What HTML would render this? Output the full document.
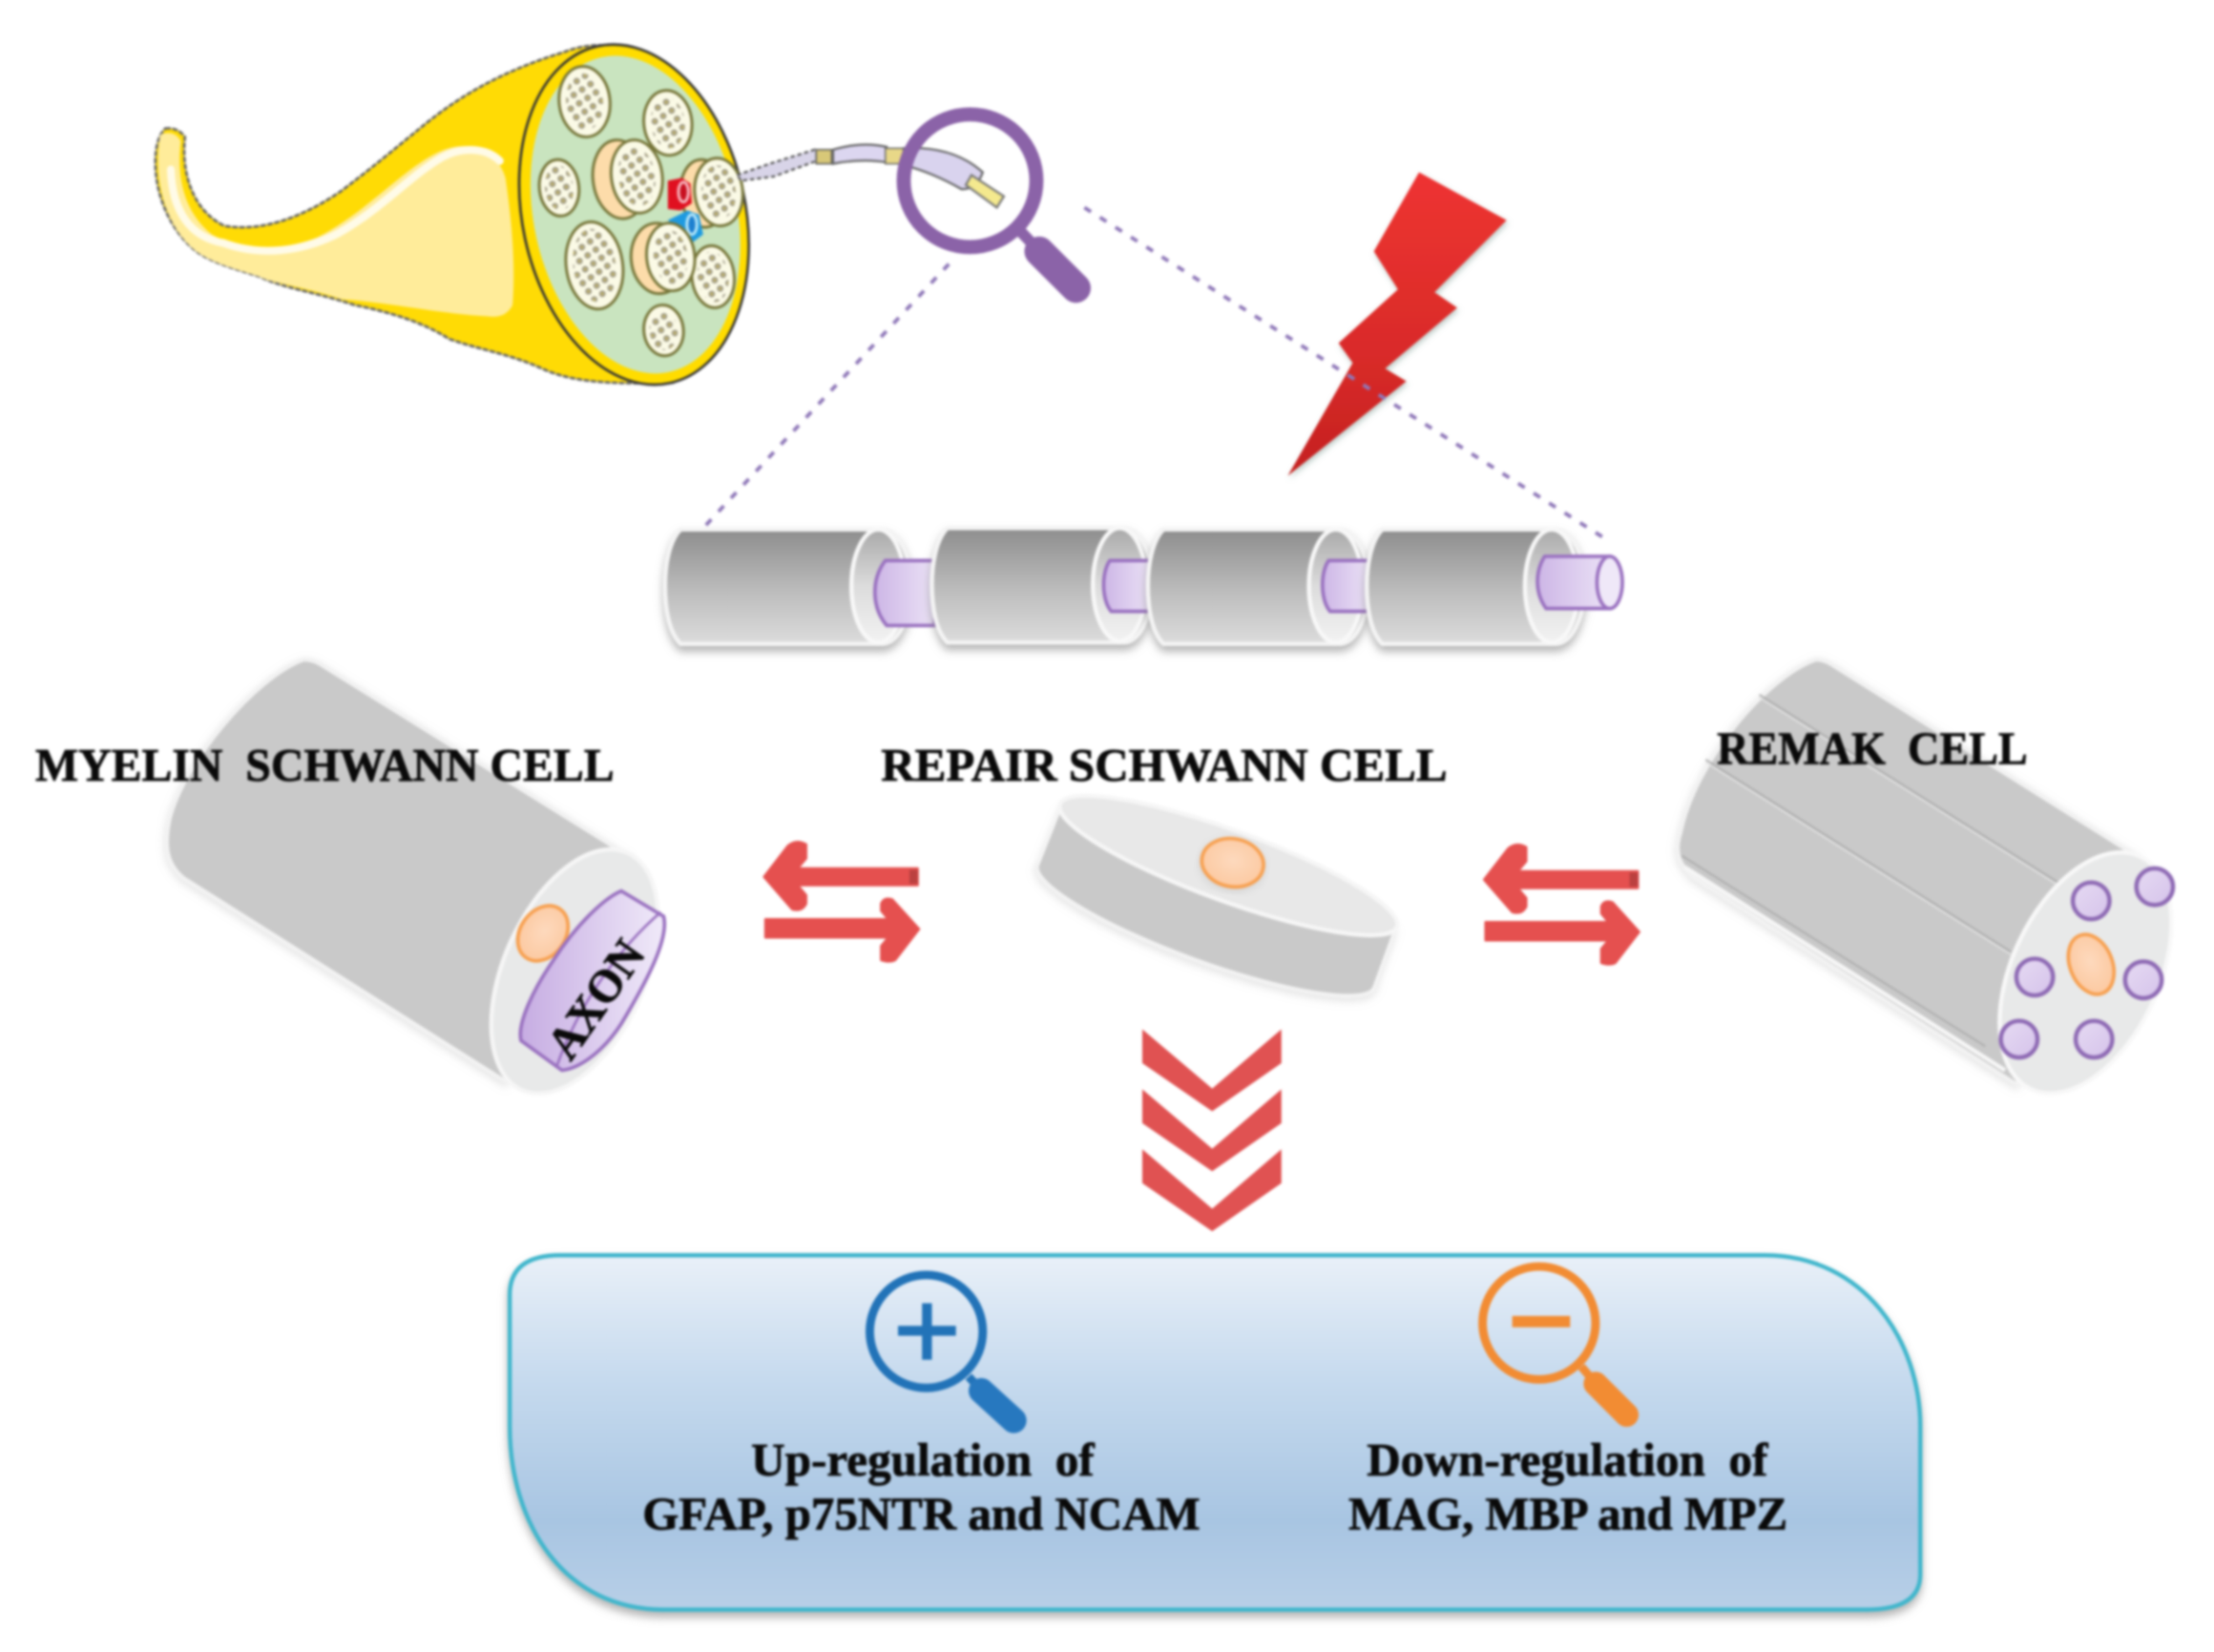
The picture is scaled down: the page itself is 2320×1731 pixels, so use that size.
<!DOCTYPE html>
<html><head><meta charset="utf-8"><style>
html,body{margin:0;padding:0;background:#fff;width:2320px;height:1731px;overflow:hidden}
svg{display:block;filter:blur(1.3px)}
text{font-family:"Liberation Serif",serif;font-weight:bold;fill:#0a0a0a;stroke:#0a0a0a;stroke-width:.5;white-space:pre}
</style></head><body>
<svg xmlns="http://www.w3.org/2000/svg" width="2320" height="1731" viewBox="0 0 1568 1170" preserveAspectRatio="none">
<defs>
<linearGradient id="body" x1="0" y1="0" x2="0" y2="1"><stop offset="0" stop-color="#8d8d8d"/><stop offset=".55" stop-color="#bdbdbd"/><stop offset="1" stop-color="#dcdcdc"/></linearGradient>
<linearGradient id="face" x1="0" y1="0" x2="0" y2="1"><stop offset="0" stop-color="#a9a9a9"/><stop offset=".5" stop-color="#dcdcdc"/><stop offset="1" stop-color="#f2f2f2"/></linearGradient>
<linearGradient id="ax" x1="0" y1="0" x2="1" y2="0"><stop offset="0" stop-color="#cdb6e6"/><stop offset="1" stop-color="#ebe2f6"/></linearGradient>
<linearGradient id="ax2" x1="0" y1="0" x2="1" y2="0"><stop offset="0" stop-color="#c6ace2"/><stop offset="1" stop-color="#f0eaf9"/></linearGradient>
<linearGradient id="bolt" x1="0" y1="0" x2="0" y2="1"><stop offset="0" stop-color="#ee3331"/><stop offset=".6" stop-color="#d92b29"/><stop offset="1" stop-color="#c4201f"/></linearGradient>
<linearGradient id="box" x1="0" y1="0" x2="0" y2="1"><stop offset="0" stop-color="#e9f0f8"/><stop offset=".35" stop-color="#c6daee"/><stop offset=".75" stop-color="#a8c5e2"/><stop offset="1" stop-color="#b8cfe7"/></linearGradient>
<radialGradient id="or" cx=".5" cy=".45" r=".6"><stop offset="0" stop-color="#fdd9bd"/><stop offset="1" stop-color="#fcc89f"/></radialGradient>
<linearGradient id="pc" x1="0" y1="0" x2="1" y2="1"><stop offset="0" stop-color="#e6daf3"/><stop offset="1" stop-color="#d5c3ea"/></linearGradient>
<filter id="sh" x="-10%" y="-15%" width="120%" height="135%"><feDropShadow dx="0" dy="4" stdDeviation="3" flood-color="#777" flood-opacity=".55"/></filter>
<filter id="sh2" x="-10%" y="-10%" width="120%" height="125%"><feDropShadow dx="0" dy="2" stdDeviation="3" flood-color="#aaa" flood-opacity=".35"/></filter>
<filter id="sh3" x="-10%" y="-10%" width="125%" height="125%"><feDropShadow dx="1" dy="2" stdDeviation="2" flood-color="#7a9a90" flood-opacity=".5"/></filter>
<pattern id="dots" width="10" height="10" patternUnits="userSpaceOnUse" patternTransform="rotate(18)">
<circle cx="2.500" cy="2.500" r="2.300" fill="#9c9888"/><circle cx="2.500" cy="2.500" r="1" fill="#c9b860"/><circle cx="7.500" cy="7.500" r="2.300" fill="#9c9888"/><circle cx="7.500" cy="7.500" r="1" fill="#c9b860"/></pattern>
<g id="arrows" stroke="#e5504f" stroke-width="1.500" stroke-linejoin="round">
<path d="M541,621 L558,599 Q564,594 571,598 L571,608 L565,615 L650,615 L650,627 L565,627 L571,634 L571,640 Q568,646 561,644 Z" fill="#e5504f"/>
<path d="M651,658 L634,680 Q630,682 624,680 L624,670 L629,664 L542,664 L542,651 L629,651 L624,645 L624,640 Q626,635 632,637 Z" fill="#e5504f"/>
<rect x="644" y="616" width="6" height="10" fill="#a93a3a" opacity=".7" stroke="none"/>
</g>
</defs>

<!-- nerve -->
<g>
<path d="M117,91 Q126,90 131,97 C128,125 138,150 159,160 C190,165 220,150 242,135 C262,120 280,105 296,92 C320,72 350,52 399,37 C412,32 425,31 436,33 L478,271 C440,272 410,272 386,262 C360,250 340,248 318,240 C296,226 270,220 251,216 C220,206 200,204 184,196 C165,190 150,186 139,178 C122,165 110,140 110,115 Q110,98 117,91 Z" fill="#ffdb05" stroke="#666" stroke-width="1.800" stroke-dasharray="4 1"/>
<path d="M114,95 Q124,92 128,100 C125,125 130,150 150,166 C170,178 200,178 225,168 C260,150 285,120 310,108 C330,98 352,105 358,126 C363,160 365,190 363,216 Q358,226 345,224 C310,222 275,214 242,212 C220,204 190,200 184,196 C165,190 150,186 139,178 C122,165 112,140 112,115 Q112,100 114,95Z" fill="#ffec9a"/>
<path d="M121,120 C122,150 135,168 158,172 C185,182 215,178 240,165 C270,148 290,125 312,112 C328,103 345,105 354,114" fill="none" stroke="#fffbe8" stroke-width="5.500" stroke-linecap="round"/>
<ellipse cx="449" cy="152" rx="79" ry="122" transform="rotate(-12 449 152)" fill="#ffdc00" stroke="#333" stroke-width="1.800"/>
<ellipse cx="450" cy="152" rx="72" ry="114" transform="rotate(-12 450 152)" fill="#c9e4bf"/>
<g stroke="#77763a" stroke-width="2" fill="#fbfae6">
<ellipse cx="414" cy="72" rx="18" ry="25" transform="rotate(-6 414 72)"/>
<ellipse cx="473" cy="87" rx="17" ry="23" transform="rotate(-6 473 87)"/>
<ellipse cx="396" cy="133" rx="14" ry="20" transform="rotate(-6 396 133)"/>
<ellipse cx="421" cy="188" rx="20" ry="31" transform="rotate(-8 421 188)"/>
<ellipse cx="470" cy="234" rx="14" ry="18" transform="rotate(-6 470 234)"/>
<ellipse cx="505" cy="196" rx="15" ry="22" transform="rotate(-6 505 196)"/>
<ellipse cx="439" cy="127" rx="19" ry="28" transform="rotate(-8 439 127)" fill="#fddcaa"/>
<ellipse cx="451" cy="125" rx="18" ry="26" transform="rotate(-8 451 125)"/>
<ellipse cx="498" cy="137" rx="16" ry="24" transform="rotate(-6 498 137)" fill="#fddcaa"/>
</g>
<path d="M473,128 l10,-2 l6,4 l1,14 l-8,5 l-9,-1 Z" fill="#e01020"/><ellipse cx="484" cy="136" rx="3.500" ry="7" fill="#c81020" stroke="#f8b8c0" stroke-width="2"/>
<path d="M473,156 l14,-7 l8,3 l3,14 l-8,6 Z" fill="#1e9ae0"/><ellipse cx="490" cy="159" rx="3.500" ry="7" fill="#1e80d0" stroke="#b8e8fa" stroke-width="2"/>
<g stroke="#77763a" stroke-width="2" fill="#fbfae6">
<ellipse cx="509" cy="136" rx="17" ry="24" transform="rotate(-6 509 136)"/>
<ellipse cx="466" cy="183" rx="19" ry="25" transform="rotate(-6 466 183)" fill="#fddcaa"/>
<ellipse cx="475" cy="182" rx="17" ry="24" transform="rotate(-6 475 182)"/>
</g>
<g fill="url(#dots)">
<ellipse cx="414" cy="72" rx="13" ry="20" transform="rotate(-6 414 72)"/>
<ellipse cx="473" cy="87" rx="12" ry="18" transform="rotate(-6 473 87)"/>
<ellipse cx="396" cy="133" rx="10" ry="16" transform="rotate(-6 396 133)"/>
<ellipse cx="421" cy="188" rx="15" ry="26" transform="rotate(-8 421 188)"/>
<ellipse cx="470" cy="234" rx="10" ry="14" transform="rotate(-6 470 234)"/>
<ellipse cx="505" cy="196" rx="11" ry="18" transform="rotate(-6 505 196)"/>
<ellipse cx="451" cy="125" rx="13" ry="21" transform="rotate(-8 451 125)"/>
<ellipse cx="509" cy="136" rx="12" ry="19" transform="rotate(-6 509 136)"/>
<ellipse cx="475" cy="182" rx="12" ry="19" transform="rotate(-6 475 182)"/>
</g>
</g>

<!-- fiber -->
<path d="M522,124 L545,116 L577,106 L581,113 L548,125 L525,128 Z" fill="#d8d4e8" stroke="#555" stroke-width="1.500" stroke-dasharray="3 2"/>
<rect x="578" y="106" width="11" height="10" fill="#d8c878" stroke="#555" stroke-width="1"/>
<path d="M590,106 Q610,100 628,104 L628,115 Q610,112 590,116 Z" fill="#dcd6f0" stroke="#666" stroke-width="1.500"/>
<rect x="627" y="105" width="14" height="11" fill="#e8d888" stroke="#666" stroke-width="1"/>
<path d="M640,105 Q675,103 696,122 Q692,134 681,134 Q660,122 640,117 Z" fill="#d9d3ee" stroke="#666" stroke-width="1.500"/>
<path d="M688,124 L711,139 L706,147 L684,131 Z" fill="#f4e98e" stroke="#777" stroke-width="1.500"/>
<circle cx="687" cy="128" r="47" fill="none" stroke="#8b63a8" stroke-width="10"/>
<line x1="722" y1="163" x2="738" y2="180" stroke="#8b63a8" stroke-width="8"/>
<line x1="736" y1="178" x2="762" y2="204" stroke="#8b63a8" stroke-width="21" stroke-linecap="round"/>

<!-- bolt -->
<polygon points="1005,122 1067,156 1016,207 1032,218 981,261 996,270 912,337 958,257 948,243 990,205 973,178" fill="url(#bolt)" filter="url(#sh3)"/>

<!-- dashed -->
<line x1="672" y1="187" x2="498" y2="374" stroke="#8f78b8" stroke-width="2.600" stroke-dasharray="5.500 7.500"/>
<line x1="768" y1="147" x2="1136" y2="381" stroke="#8f78b8" stroke-width="2.600" stroke-dasharray="5.500 7.500"/>

<!-- chain -->
<path d="M482,375 C474,383 471,400 471,415 C471,432 474,448 482,456 L625,456 A20,40.500 0 0 0 625,375 Z" fill="url(#body)" stroke="#f4f4f4" stroke-width="3" filter="url(#sh)"/>
<ellipse cx="622" cy="415" rx="19" ry="40" fill="url(#face)" stroke="#f8f8f8" stroke-width="3"/>
<path d="M627,397 L662,397 L662,443 L628,443 C617,430 617,410 627,397 Z" fill="url(#ax)" stroke="#9a72c0" stroke-width="2.500"/>
<path d="M671,374 C663,382 660,399 660,414 C660,431 663,447 671,455 L796,455 A20,40.500 0 0 0 796,374 Z" fill="url(#body)" stroke="#f4f4f4" stroke-width="3" filter="url(#sh)"/>
<ellipse cx="793" cy="414" rx="19" ry="40" fill="url(#face)" stroke="#f8f8f8" stroke-width="3"/>
<path d="M786,397 L815,397 L815,433 L787,433 C780,425 780,405 786,397 Z" fill="url(#ax)" stroke="#9a72c0" stroke-width="2.500"/>
<path d="M824,375 C816,383 813,400 813,415 C813,432 816,448 824,456 L949,456 A20,40.500 0 0 0 949,375 Z" fill="url(#body)" stroke="#f4f4f4" stroke-width="3" filter="url(#sh)"/>
<ellipse cx="946" cy="415" rx="19" ry="40" fill="url(#face)" stroke="#f8f8f8" stroke-width="3"/>
<path d="M941,397 L970,397 L970,433 L942,433 C935,425 935,405 941,397 Z" fill="url(#ax)" stroke="#9a72c0" stroke-width="2.500"/>
<path d="M979,375 C971,383 968,400 968,415 C968,432 971,448 979,456 L1102,456 A20,40.500 0 0 0 1102,375 Z" fill="url(#body)" stroke="#f4f4f4" stroke-width="3" filter="url(#sh)"/>
<ellipse cx="1099" cy="415" rx="19" ry="40" fill="url(#face)" stroke="#f8f8f8" stroke-width="3"/>
<path d="M1094,394 L1140,394 L1140,431 L1095,431 C1087,420 1087,405 1094,394 Z" fill="url(#ax)" stroke="#9a72c0" stroke-width="2.500"/>
<ellipse cx="1140" cy="412.500" rx="9" ry="18.500" fill="#efe8f8" stroke="#9a72c0" stroke-width="2.500"/>

<!-- myelin cell -->
<path d="M215,467 C180,480 130,540 120,580 C116,600 118,612 130,622 L358,766 L445,606 L228,471 Q222,467 215,467 Z" fill="#c9c9c9" stroke="#f2f2f2" stroke-width="3" filter="url(#sh2)"/>
<ellipse cx="407" cy="688" rx="50" ry="92" transform="rotate(24 407 688)" fill="#e8e9e9" stroke="#f6f6f6" stroke-width="3"/>
<ellipse cx="384.500" cy="661" rx="16" ry="21" transform="rotate(35 384.500 661)" fill="url(#or)" stroke="#f7a050" stroke-width="2.500"/>
<path d="M440,631 L470,649 C474,665 458,695 440,725 C425,748 408,757 398,758 L369,737 C366,725 378,700 392,680 C408,655 428,636 440,631 Z" fill="url(#ax2)" stroke="#9a72c0" stroke-width="2.500"/>
<path d="M468,646 C440,670 410,710 394,756" fill="none" stroke="#9a72c0" stroke-width="1.800"/>
<text x="0" y="0" font-size="33" text-anchor="middle" textLength="94" lengthAdjust="spacingAndGlyphs" transform="translate(431,714) rotate(-55)">AXON</text>

<!-- repair cell -->
<g filter="url(#sh2)">
<ellipse cx="854" cy="656" rx="127" ry="25" transform="rotate(20 854 656)" fill="#c9c9c9" stroke="#f2f2f2" stroke-width="3"/>
<polygon points="751,570 989,656 973,699 735,613" fill="#c9c9c9"/>
<line x1="752" y1="570" x2="735" y2="613" stroke="#f4f4f4" stroke-width="2"/>
<line x1="988" y1="658" x2="972" y2="702" stroke="#f4f4f4" stroke-width="2"/>
</g>
<ellipse cx="870" cy="613" rx="127" ry="25" transform="rotate(20 870 613)" fill="#e8e8e8" stroke="#f6f6f6" stroke-width="3"/>
<ellipse cx="873" cy="611" rx="22" ry="17" transform="rotate(10 873 611)" fill="url(#or)" stroke="#f7a050" stroke-width="2.500" filter="url(#sh2)"/>

<!-- remak cell -->
<path d="M1286,467 C1250,480 1200,540 1190,590 C1186,602 1188,612 1200,622 L1428,768 L1513,606 L1298,471 Q1292,467 1286,467 Z" fill="#c9c9c9" stroke="#f2f2f2" stroke-width="3" filter="url(#sh2)"/>
<path d="M1246,492 L1464,629 M1208,538 L1424,674 M1191,606 L1406,741" stroke="#aeaeae" stroke-width="1.300" fill="none"/>
<path d="M1246,494 L1464,631 M1208,540 L1424,676" stroke="#e4e4e4" stroke-width="1" fill="none"/>
<path d="M1193,614 L1420,758" stroke="#f6f6f6" stroke-width="3" fill="none"/>
<ellipse cx="1477" cy="689" rx="52" ry="91" transform="rotate(25 1477 689)" fill="#e8e9e9" stroke="#f8f8f8" stroke-width="3"/>
<g fill="url(#pc)" stroke="#8e6ab4" stroke-width="3">
<circle cx="1481" cy="638" r="13"/><circle cx="1526" cy="628" r="13"/><circle cx="1441" cy="692" r="13"/><circle cx="1518" cy="694" r="13"/><circle cx="1430" cy="736" r="13"/><circle cx="1483" cy="736" r="13"/>
</g>
<ellipse cx="1481" cy="683" rx="15" ry="22" transform="rotate(-22 1481 683)" fill="url(#or)" stroke="#f7a050" stroke-width="2.500"/>

<!-- labels -->
<text x="25" y="553" font-size="33" textLength="410" lengthAdjust="spacingAndGlyphs">MYELIN  SCHWANN CELL</text>
<text x="624" y="553" font-size="33" textLength="401" lengthAdjust="spacingAndGlyphs">REPAIR SCHWANN CELL</text>
<text x="1216" y="541" font-size="33" textLength="220" lengthAdjust="spacingAndGlyphs">REMAK  CELL</text>

<!-- arrows -->
<use href="#arrows"/>
<use href="#arrows" transform="translate(510,2)"/>
<g fill="#e05252">
<polygon points="809,729 858.500,771 907.500,729 907.500,753 858.500,787 809,753"/>
<polygon points="809,729 858.500,771 907.500,729 907.500,753 858.500,787 809,753" transform="translate(0,42.500)"/>
<polygon points="809,729 858.500,771 907.500,729 907.500,753 858.500,787 809,753" transform="translate(0,85)"/>
</g>

<!-- box -->
<path d="M361,917 Q361,889 397,889 L1250,889 C1320,889 1360,950 1360,1010 L1360,1115 Q1360,1140 1322,1140 L470,1140 C400,1140 361,1080 361,1010 Z" fill="url(#box)" stroke="#3fb6cc" stroke-width="3" filter="url(#sh)"/>
<circle cx="656" cy="943" r="40" fill="none" stroke="#2273b8" stroke-width="6"/>
<rect x="636" y="939" width="41" height="7" fill="#2273b8"/><rect x="653" y="923" width="7" height="40" fill="#2273b8"/>
<line x1="686" y1="975" x2="698" y2="988" stroke="#2273b8" stroke-width="6"/>
<line x1="695" y1="985" x2="718" y2="1006" stroke="#2778bf" stroke-width="18" stroke-linecap="round"/>
<circle cx="1090" cy="937" r="40" fill="none" stroke="#f28c33" stroke-width="6"/>
<rect x="1071" y="932" width="41" height="8" fill="#f28c33"/>
<line x1="1120" y1="968" x2="1132" y2="982" stroke="#f28c33" stroke-width="6"/>
<line x1="1130" y1="980" x2="1152" y2="1002" stroke="#f28c33" stroke-width="17" stroke-linecap="round"/>
<text x="532" y="1045" font-size="33" textLength="243" lengthAdjust="spacingAndGlyphs">Up-regulation  of</text>
<text x="455" y="1083" font-size="33" textLength="395" lengthAdjust="spacingAndGlyphs">GFAP, p75NTR and NCAM</text>
<text x="968" y="1045" font-size="33" textLength="284" lengthAdjust="spacingAndGlyphs">Down-regulation  of</text>
<text x="955" y="1083" font-size="33" textLength="311" lengthAdjust="spacingAndGlyphs">MAG, MBP and MPZ</text>
</svg>
</body></html>
